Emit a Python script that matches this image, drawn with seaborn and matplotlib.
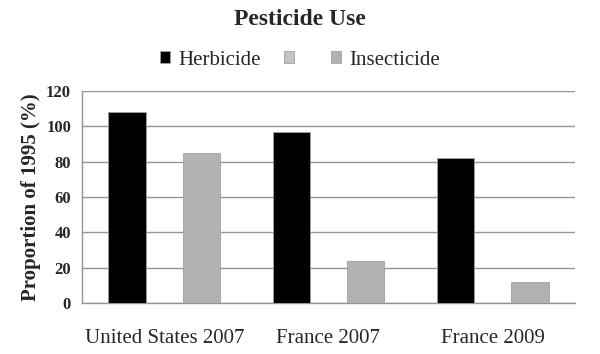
import matplotlib
matplotlib.use('Agg')
import matplotlib.pyplot as plt
import numpy as np
import pandas as pd
import seaborn as sns

# Data
categories = ['United States 2007', 'France 2007', 'France 2009']
herbicide = [108, 97, 82]
blank_series = [np.nan, np.nan, np.nan]  # empty middle series in the original legend
insecticide = [85, 24, 12]
series_names = ['Herbicide', ' ', 'Insecticide']
series_colors = ['#000000', '#c4c4c4', '#b2b2b2']

df = pd.DataFrame({
    'Country': categories * 3,
    'Series': [series_names[0]] * 3 + [series_names[1]] * 3 + [series_names[2]] * 3,
    'Value': herbicide + blank_series + insecticide,
})

sns.set_style('white')
plt.rcParams['font.family'] = ['Liberation Serif', 'DejaVu Serif']

fig = plt.figure(figsize=(6, 3.54), dpi=100)
ax = fig.add_axes([0.137, 0.144, 0.821, 0.599])

sns.barplot(data=df, x='Country', y='Value', hue='Series', hue_order=series_names,
            palette=series_colors, width=0.68, linewidth=0.6, edgecolor='#a0a0a0',
            ax=ax, zorder=3)

ax.set_ylim(0, 120)
ax.set_yticks(range(0, 121, 20))
ax.set_xlim(-0.5, 2.5)
ax.yaxis.grid(True, color='#959595', linewidth=1, zorder=0)
ax.set_axisbelow(True)

for side in ['top', 'right']:
    ax.spines[side].set_visible(False)
for side in ['left', 'bottom']:
    ax.spines[side].set_color('#959595')
    ax.spines[side].set_linewidth(1)

# category boundary ticks (Excel style)
ax.set_xticks([-0.5, 0.5, 1.5, 2.5], minor=True)
ax.tick_params(axis='x', which='minor', length=5, color='#959595', width=1, direction='out')
ax.tick_params(axis='x', which='major', length=0, labelsize=15, pad=19)
ax.tick_params(axis='y', length=5, color='#959595', width=1, direction='out', labelsize=12, pad=3)
ax.set_yticklabels([str(v) for v in range(0, 121, 20)], fontweight='bold')

ax.set_xlabel('')
ax.set_ylabel('Proportion of 1995 (%)', fontsize=15, fontweight='bold', labelpad=4)

sns.move_legend(ax, 'center', bbox_to_anchor=(0.5, 0.83), bbox_transform=fig.transFigure,
                ncol=3, frameon=False, title=None, fontsize=15,
                handlelength=0.5, handleheight=0.5, handletextpad=0.4, columnspacing=1.1)

fig.suptitle('Pesticide Use', y=0.975, fontsize=17, fontweight='bold')

fig.savefig('out.png', dpi=100)
